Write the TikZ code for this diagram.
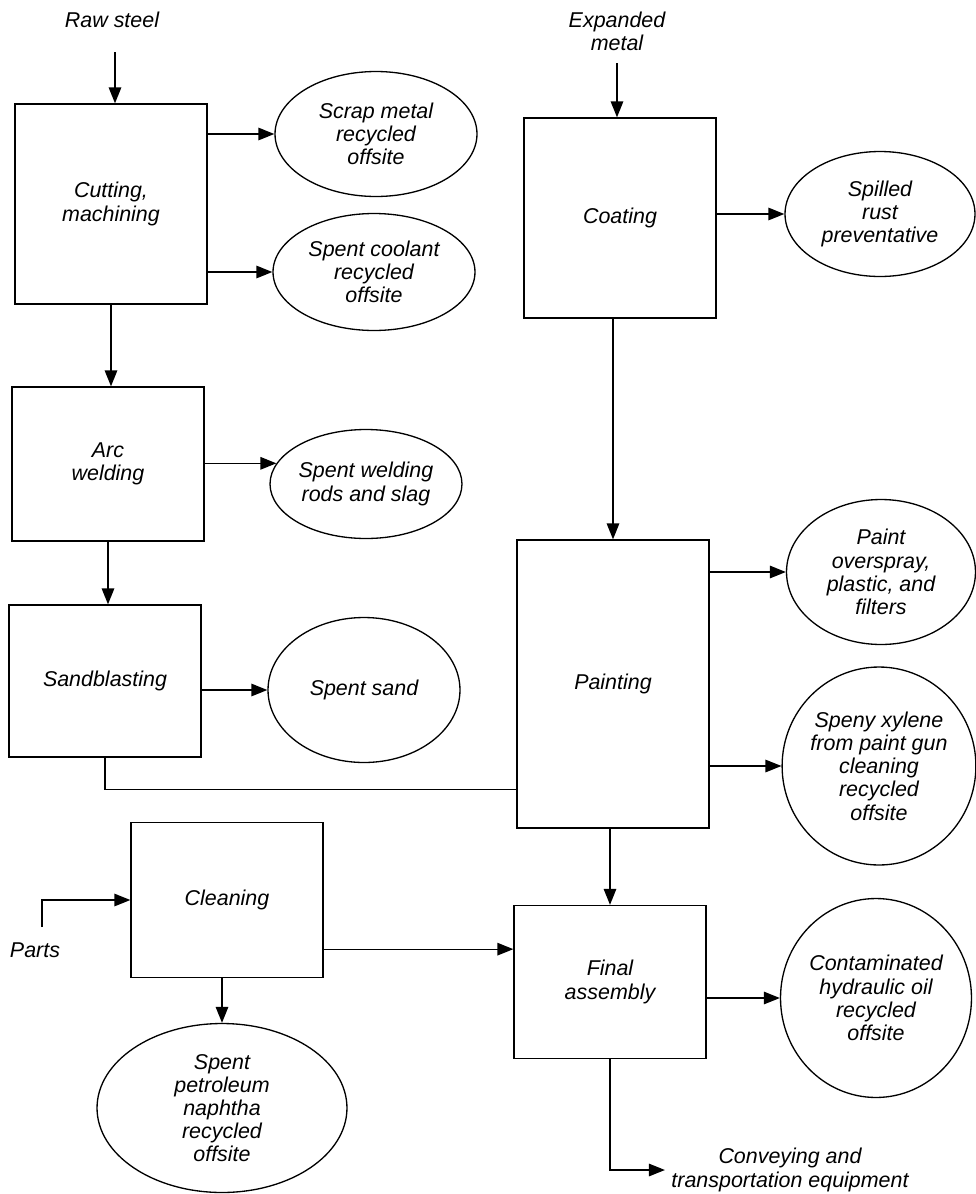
\documentclass[tikz,border=0pt]{standalone}
\usepackage{fontspec}
\setmainfont{Liberation Sans}
\usetikzlibrary{shapes.geometric, arrows.meta}

\begin{document}
\begin{tikzpicture}[x=0.02cm, y=-0.02cm, ->, >={Triangle[length=3.2mm,width=2.5mm]}, line width=0.75pt,
    font=\itshape\fontsize{12.2}{13.2}\selectfont,
    proc/.style={draw, rectangle, minimum width=3.84cm, align=center},
    waste/.style={draw, ellipse, inner sep=0pt, align=center}]
      \useasboundingbox (0,0) rectangle (976,1194);

      % process steps
      \node[proc, minimum height=4cm] (cut) at (111,204) {Cutting,\\machining};
      \node[proc, minimum height=3.08cm] (arc) at (108,464) {Arc\\welding};
      \node[proc, minimum height=3.04cm] (sand) at (105,681) {Sandblasting};
      \node[proc, minimum height=4cm] (coat) at (620,218) {Coating};
      \node[proc, minimum height=5.76cm] (paint) at (613,684) {Painting};
      \node[proc, minimum height=3.06cm] (final) at (610,982) {Final\\assembly};
      \node[proc, minimum height=3.1cm] (clean) at (227,900) {Cleaning};

      % wastes
      \node[waste, minimum width=4.04cm, minimum height=2.5cm] (scrap) at (376,134) {Scrap metal\\recycled\\offsite};
      \node[waste, minimum width=4.04cm, minimum height=2.34cm] (coolant) at (374,272) {Spent coolant\\recycled\\offsite};
      \node[waste, minimum width=3.84cm, minimum height=2.18cm] (weld) at (366,484) {Spent welding\\rods and slag};
      \node[waste, minimum width=3.84cm, minimum height=2.9cm] (spsand) at (364,690) {Spent sand};
      \node[waste, minimum width=3.8cm, minimum height=2.5cm] (spilled) at (880,214) {Spilled\\rust\\preventative};
      \node[waste, minimum width=3.78cm, minimum height=2.9cm] (overspray) at (881,572) {Paint\\overspray,\\plastic, and\\filters};
      \node[waste, minimum width=3.86cm, minimum height=3.96cm] (xylene) at (879,766) {Speny xylene\\from paint gun\\cleaning\\recycled\\offsite};
      \node[waste, minimum width=3.82cm, minimum height=3.98cm] (contam) at (876,998) {Contaminated\\hydraulic oil\\recycled\\offsite};
      \node[waste, minimum width=5cm, minimum height=3.38cm] (naphtha) at (222,1108) {Spent\\petroleum\\naphtha\\recycled\\offsite};

      % inputs and outputs
      \node (raw) at (112,20) {Raw steel};
      \node[align=center] (exp) at (617,31) {Expanded\\metal};
      \node (parts) at (35,950) {Parts};
      \node[align=center] (convey) at (790,1170) {Conveying and\\transportation equipment};
      \coordinate (rawin) at (115,52);
      \coordinate (expin) at (617,63);
      \coordinate (partsin) at (42,927);
      \coordinate (cleanout) at ([yshift=0.58cm]clean.south east);

      \path (rawin) edge (rawin |- cut.north)
            (cut.east |- scrap) edge (scrap)
            (cut.east |- coolant) edge (coolant)
            (cut.south) edge (cut.south |- arc.north)
            (weld.167 -| arc.east) edge (weld.167)
            (arc.south) edge (arc.south |- sand.north)
            (sand.east |- spsand) edge (spsand)
            (expin) edge (expin |- coat.north)
            (coat.east |- spilled) edge (spilled)
            (paint.north |- coat.south) edge (paint.north)
            (paint.east |- overspray) edge (overspray)
            (paint.east |- xylene) edge (xylene)
            (final.north |- paint.south) edge (final.north)
            (final.east |- contam) edge (contam)
            (naphtha.north |- clean.south) edge (naphtha.north)
            (cleanout) edge (cleanout -| final.west)
            ;

      \draw[-] (sand.south) |- ([yshift=0.78cm]paint.south west);
      \draw (partsin) |- (clean.west);
      \draw (final.south) |- (convey.west);

    \end{tikzpicture}
\end{document}
